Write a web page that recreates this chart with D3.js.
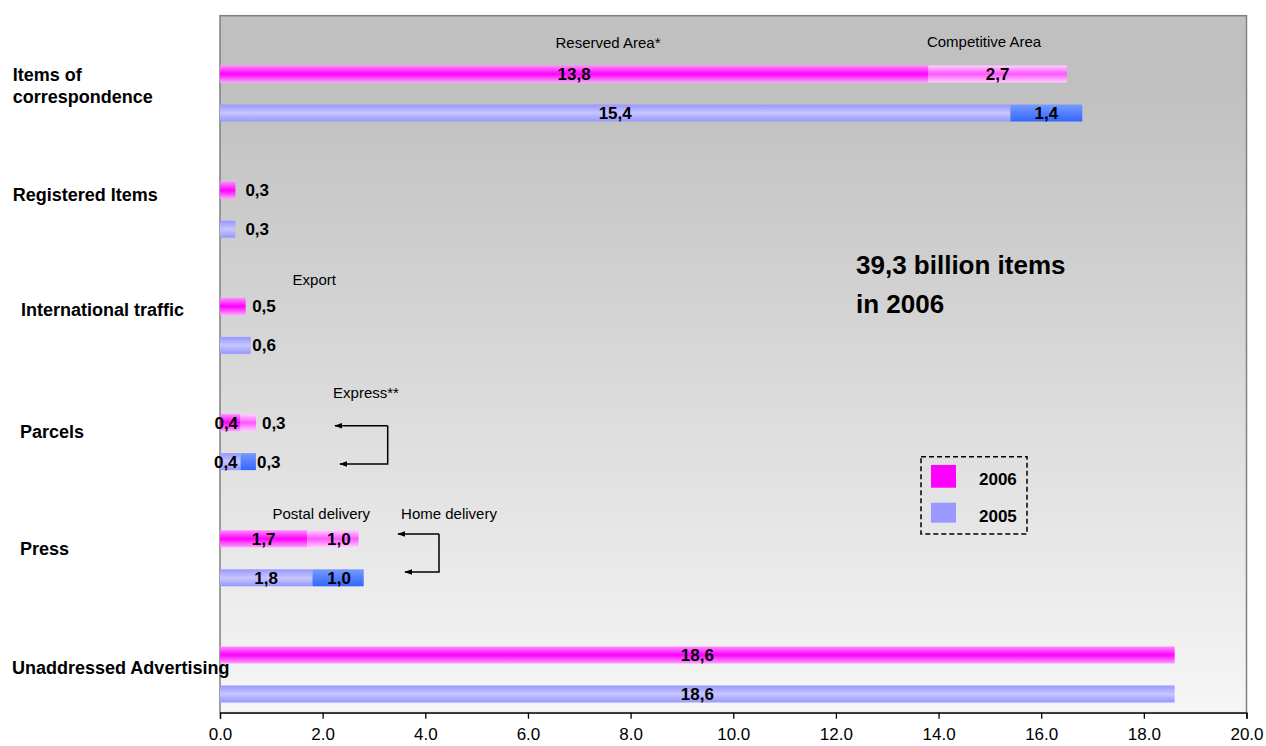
<!DOCTYPE html>
<html>
<head>
<meta charset="utf-8">
<script src="https://cdn.jsdelivr.net/npm/d3@7"></script>
<style>
  html, body { margin: 0; padding: 0; background: #ffffff; }
  svg { display: block; font-family: "Liberation Sans", Arial, sans-serif; }
</style>
</head>
<body>
<svg id="chart" width="1266" height="746"></svg>
<script>
// ---------------- data ----------------
const categories = ["Items of correspondence", "Registered Items", "International traffic", "Parcels", "Press", "Unaddressed Advertising"];
const years = ["2006", "2005"];
const first2006 = [13.8, 0.3, 0.5, 0.4, 1.7, 18.6];
const second2006 = [2.7, 0, 0, 0.3, 1.0, 0];
const first2005 = [15.4, 0.3, 0.6, 0.4, 1.8, 18.6];
const second2005 = [1.4, 0, 0, 0.3, 1.0, 0];
const xTickValues = [0, 2, 4, 6, 8, 10, 12, 14, 16, 18, 20];
const legendLabels = ["2006", "2005"];
const annotationTexts = ["Reserved Area*", "Competitive Area", "Export", "Express**", "Postal delivery", "Home delivery"];
const bigNote = ["39,3 billion items", "in 2006"];

// ---------------- layout ----------------
const W = 1266, H = 746;
const plot = { left: 220, right: 1246.5, top: 15.7, bottom: 712.7 };
const svg = d3.select("#chart");

const x = d3.scaleLinear().domain([0, 20]).range([plot.left, plot.right]);
const yGroup = d3.scaleBand().domain(categories).range([35.4, 732.6]).padding(0);
const yYear = d3.scalePoint().domain(years).range([-19.5, 19.5]);
const barH = 17;
const fmt = v => d3.format(".1f")(v).replace(".", ",");

// gradients
const defs = svg.append("defs");
function vGrad(id, stops) {
  const g = defs.append("linearGradient").attr("id", id)
    .attr("x1", 0).attr("y1", 0).attr("x2", 0).attr("y2", 1);
  stops.forEach(s => g.append("stop").attr("offset", s[0]).attr("stop-color", s[1]));
}
vGrad("bg", [[0, "#c0c0c0"], [0.1, "#c0c0c0"], [1, "#f6f6f6"]]);
vGrad("g2006a", [[0, "#ff8cff"], [0.5, "#ff00ff"], [1, "#ffa0ff"]]);
vGrad("g2006b", [[0, "#ffd0ff"], [0.5, "#ff55ff"], [1, "#ffd0ff"]]);
vGrad("g2005a", [[0, "#9797ff"], [0.5, "#c6c6ff"], [1, "#9797ff"]]);
vGrad("g2005b", [[0, "#7799ff"], [1, "#3366ff"]]);

const fillFor = { "2006": ["url(#g2006a)", "url(#g2006b)"], "2005": ["url(#g2005a)", "url(#g2005b)"] };
const legendColor = { "2006": "#ff00ff", "2005": "#9999ff" };

// plot area
svg.append("rect")
  .attr("x", plot.left).attr("y", plot.top)
  .attr("width", plot.right - plot.left).attr("height", plot.bottom - plot.top)
  .attr("fill", "url(#bg)").attr("stroke", "#808080").attr("stroke-width", 1.5);

// build segments
const segs = [];
categories.forEach((c, i) => {
  const vals = { "2006": [first2006[i], second2006[i]], "2005": [first2005[i], second2005[i]] };
  years.forEach(yr => {
    let start = 0;
    vals[yr].forEach((v, k) => {
      if (v > 0) segs.push({ cat: c, i, yr, k, start, v });
      start += v;
    });
  });
});

const barY = d => yGroup(d.cat) + yGroup.bandwidth() / 2 + yYear(d.yr);

svg.append("g").selectAll("rect").data(segs).join("rect")
  .attr("x", d => x(d.start))
  .attr("y", d => barY(d) - barH / 2)
  .attr("width", d => x(d.start + d.v) - x(d.start))
  .attr("height", barH)
  .attr("fill", d => fillFor[d.yr][d.k]);

// label placement tweaks (pixels)
const labelTweak = {
  "1-0": { anchor: "start", dx: { "2006": 10, "2005": 10 } },
  "2-0": { anchor: "start", dx: { "2006": 6.5, "2005": 1.5 } },
  "3-0": { anchor: "middle", dx: { "2006": -4, "2005": -4.5 } },
  "3-1": { anchor: "start", dx: { "2006": 6, "2005": 1 } },
  "4-1": { anchor: "middle", dx: { "2006": 6, "2005": 1 } }
};
function labelX(d) {
  const t = labelTweak[d.i + "-" + d.k];
  if (t && t.anchor === "start") return x(d.start + d.v) + t.dx[d.yr];
  const base = x(d.start + d.v / 2);
  return t ? base + t.dx[d.yr] : base;
}
function labelAnchor(d) {
  const t = labelTweak[d.i + "-" + d.k];
  return t ? t.anchor : "middle";
}

svg.append("g").selectAll("text").data(segs).join("text")
  .attr("x", labelX)
  .attr("y", d => barY(d) + 6)
  .attr("text-anchor", labelAnchor)
  .attr("font-size", 17).attr("font-weight", "bold").attr("fill", "#000")
  .text(d => fmt(d.v));

// category labels
const catLayout = [
  { x: 12.7, dy: [-12.5, 9.8], lines: ["Items of", "correspondence"] },
  { x: 12.7, dy: [-9] },
  { x: 21, dy: [-10] },
  { x: 20, dy: [-4] },
  { x: 20, dy: [-3] },
  { x: 12, dy: [-0.5] }
];
categories.forEach((c, i) => {
  const L = catLayout[i];
  const lines = L.lines || [c];
  const cy = yGroup(c) + yGroup.bandwidth() / 2;
  lines.forEach((ln, j) => {
    svg.append("text").attr("x", L.x).attr("y", cy + L.dy[j])
      .attr("font-size", 18).attr("font-weight", "bold").attr("fill", "#000")
      .text(ln);
  });
});

// axis
const axis = d3.axisBottom(x).tickValues(xTickValues).tickFormat(d3.format(".1f"))
  .tickSize(6).tickSizeOuter(6).tickPadding(9);
const ax = svg.append("g").attr("transform", `translate(0,${plot.bottom})`).call(axis);
ax.select(".domain").attr("stroke", "#000").attr("stroke-width", 1.3);
ax.selectAll(".tick line").attr("stroke", "#000").attr("stroke-width", 1.3);
ax.selectAll(".tick text").attr("font-size", 17).attr("fill", "#000")
  .attr("font-family", "'Liberation Sans', Arial, sans-serif");

// annotations
const annPos = [[608, 48], [984, 47], [314.3, 285], [366, 398], [321.3, 519], [449, 519]];
annotationTexts.forEach((t, i) => {
  svg.append("text").attr("x", annPos[i][0]).attr("y", annPos[i][1])
    .attr("text-anchor", "middle").attr("font-size", 15).attr("fill", "#000").text(t);
});

// big note
bigNote.forEach((t, i) => {
  svg.append("text").attr("x", 856).attr("y", [273.5, 312.5][i])
    .attr("font-size", 26).attr("font-weight", "bold").attr("fill", "#000").text(t);
});

// arrows
defs.append("marker").attr("id", "ah").attr("viewBox", "0 0 10 10")
  .attr("refX", 9).attr("refY", 5).attr("markerWidth", 8).attr("markerHeight", 8)
  .attr("markerUnits", "userSpaceOnUse").attr("orient", "auto")
  .append("path").attr("d", "M0,1.5 L10,5 L0,8.5 Z").attr("fill", "#000");
function bracket(xr, y1, y2, xEnd1, xEnd2) {
  svg.append("path").attr("d", `M${xr},${y1} H${xEnd1}`)
    .attr("stroke", "#000").attr("stroke-width", 1.5).attr("fill", "none")
    .attr("marker-end", "url(#ah)");
  svg.append("path").attr("d", `M${xr},${y1} V${y2} H${xEnd2}`)
    .attr("stroke", "#000").attr("stroke-width", 1.5).attr("fill", "none")
    .attr("marker-end", "url(#ah)");
}
bracket(387.7, 425.7, 464, 335, 340);
bracket(439, 534, 572, 398, 405);

// legend
const lg = svg.append("g");
lg.append("rect").attr("x", 921).attr("y", 456.7).attr("width", 106).attr("height", 77.3)
  .attr("fill", "none").attr("stroke", "#000").attr("stroke-width", 1.5)
  .attr("stroke-dasharray", "5,3");
legendLabels.forEach((yr, i) => {
  lg.append("rect").attr("x", 931).attr("y", [465, 502.7][i]).attr("width", 25).attr("height", [22.7, 20][i])
    .attr("fill", legendColor[yr]);
  lg.append("text").attr("x", 979).attr("y", [485, 521.7][i])
    .attr("font-size", 17).attr("font-weight", "bold").attr("fill", "#000").text(yr);
});
</script>
</body>
</html>
